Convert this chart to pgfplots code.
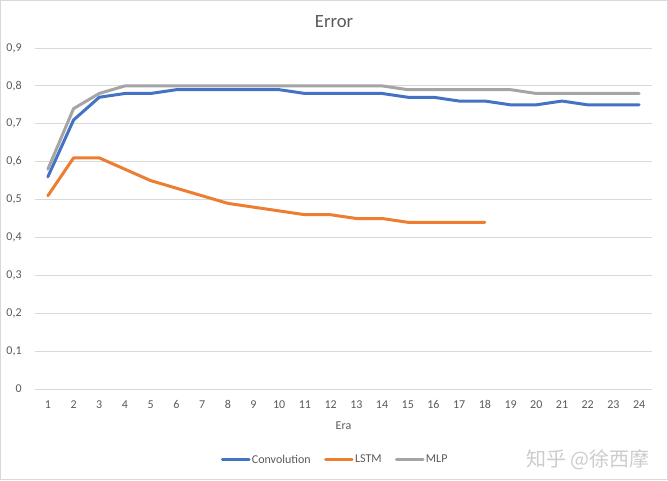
\documentclass[border=0pt]{standalone}
\usepackage{pgfplots}
\pgfplotsset{compat=1.18}
\usepackage{fontspec}
\setmainfont{Carlito}
\newfontfamily\cjk{Noto Sans CJK SC}
\definecolor{cconv}{HTML}{4472C4}
\definecolor{clstm}{HTML}{ED7D31}
\definecolor{cmlp}{HTML}{A5A5A5}
\definecolor{txt}{HTML}{595959}
\definecolor{grd}{HTML}{D9D9D9}
\begin{document}
\begin{tikzpicture}
\useasboundingbox (0pt,0pt) rectangle (501pt,360pt);
\draw[grd, line width=0.75pt] (0.4pt,0.4pt) rectangle (500.6pt,359.6pt);
\node[txt, font=\fontsize{14}{16}\selectfont] at (250.5pt,343.5pt) {Error};
\node[gray!40, font=\cjk\fontsize{15}{17}\selectfont] at (441pt,15pt) {知乎 @徐西摩};
\begin{axis}[
  at={(26.25pt,68.25pt)}, anchor=south west,
  scale only axis, width=462.75pt, height=255.75pt,
  xmin=0.5, xmax=24.5, ymin=0, ymax=0.9,
  xtick={1,...,24}, ytick={0,0.1,...,0.9},
  axis line style={draw=none},
  major tick length=0pt,
  ymajorgrids, grid style={grd, line width=0.75pt},
  tick label style={txt, font=\fontsize{9}{11}\selectfont},
  /pgf/number format/assume math mode=true,
  /pgf/number format/use comma,
  yticklabel style={/pgf/number format/fixed, /pgf/number format/precision=1, xshift=-6.5pt},
  xticklabel style={yshift=-5pt},
  xlabel={Era}, xlabel style={txt, font=\fontsize{9}{11}\selectfont, at={(axis description cs:0.5,-0.1085)}, anchor=center},
  legend columns=3,
  legend style={draw=none, fill=none, at={(0.486,-0.208)}, anchor=center, font=\fontsize{9}{11}\selectfont\color{txt},
    nodes={inner sep=1pt},
    /tikz/every even column/.append style={column sep=9pt}},
  legend image code/.code={\draw[#1, line width=2.25pt] (0pt,0pt) -- (20pt,0pt);},
  every axis plot/.append style={line width=2.25pt, line join=round, line cap=round, mark=none},
]
\addplot[cconv] coordinates {(1,0.56)(2,0.71)(3,0.77)(4,0.78)(5,0.78)(6,0.79)(7,0.79)(8,0.79)(9,0.79)(10,0.79)(11,0.78)(12,0.78)(13,0.78)(14,0.78)(15,0.77)(16,0.77)(17,0.76)(18,0.76)(19,0.75)(20,0.75)(21,0.76)(22,0.75)(23,0.75)(24,0.75)};
\addlegendentry{Convolution}
\addplot[clstm] coordinates {(1,0.51)(2,0.61)(3,0.61)(4,0.58)(5,0.55)(6,0.53)(7,0.51)(8,0.49)(9,0.48)(10,0.47)(11,0.46)(12,0.46)(13,0.45)(14,0.45)(15,0.44)(16,0.44)(17,0.44)(18,0.44)};
\addlegendentry{LSTM}
\addplot[cmlp] coordinates {(1,0.58)(2,0.74)(3,0.78)(4,0.80)(5,0.80)(6,0.80)(7,0.80)(8,0.80)(9,0.80)(10,0.80)(11,0.80)(12,0.80)(13,0.80)(14,0.80)(15,0.79)(16,0.79)(17,0.79)(18,0.79)(19,0.79)(20,0.78)(21,0.78)(22,0.78)(23,0.78)(24,0.78)};
\addlegendentry{MLP}
\end{axis}
\end{tikzpicture}
\end{document}
